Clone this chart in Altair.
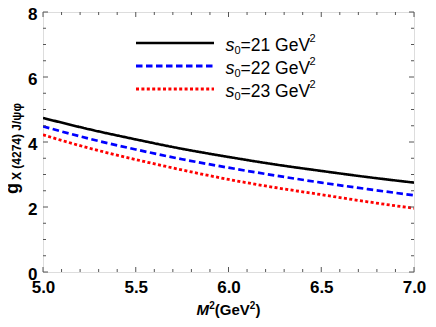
import altair as alt
import pandas as pd

# ---------------- data ----------------
m2 = [5.0, 5.25, 5.5, 5.75, 6.0, 6.25, 6.5, 6.75, 7.0]
g_s21 = [4.74, 4.39, 4.08, 3.79, 3.54, 3.31, 3.11, 2.92, 2.75]
g_s22 = [4.48, 4.10, 3.77, 3.47, 3.21, 2.97, 2.75, 2.55, 2.36]
g_s23 = [4.22, 3.81, 3.46, 3.14, 2.85, 2.60, 2.38, 2.16, 1.96]
series_names = ["s0=21", "s0=22", "s0=23"]
legend_numbers = ["=21 GeV", "=22 GeV", "=23 GeV"]
series_colors = ["#000000", "#0000ff", "#ff0000"]
series_dashes = [[1, 0], [6.5, 3.5], [3, 2.4]]
series_widths = [2.6, 2.8, 3.2]

x_major_ticks = [5.0, 5.5, 6.0, 6.5, 7.0]
x_minor_ticks = [5.1, 5.2, 5.3, 5.4, 5.6, 5.7, 5.8, 5.9,
                 6.1, 6.2, 6.3, 6.4, 6.6, 6.7, 6.8, 6.9]
y_major_ticks = [0, 2, 4, 6, 8]
y_minor_ticks = [0.5, 1, 1.5, 2.5, 3, 3.5, 4.5, 5, 5.5, 6.5, 7, 7.5]

# ---------------- layout ----------------
W, H = 371, 260
FRAME = "#555555"
FONT = "Liberation Sans"

rows = []
for name, vals in zip(series_names, [g_s21, g_s22, g_s23]):
    for xv, yv in zip(m2, vals):
        rows.append({"M2": xv, "g": yv, "series": name})
df = pd.DataFrame(rows)

xscale = alt.Scale(domain=[5, 7], nice=False, zero=False)
yscale = alt.Scale(domain=[0, 8], nice=False)

x_axis = alt.Axis(values=x_major_ticks, format=".1f", ticks=False, domain=False,
                  grid=False, labelFont=FONT, labelFontSize=17, labelFontWeight="bold",
                  labelColor="black", labelPadding=7, labelFlush=False, title=None)
y_axis = alt.Axis(values=y_major_ticks, format="d", ticks=False, domain=False,
                  grid=False, labelFont=FONT, labelFontSize=17, labelFontWeight="bold",
                  labelColor="black", labelPadding=6, labelOffset=2, labelFlush=False,
                  title=None)

lines = alt.Chart(df).mark_line(interpolate="monotone", clip=True).encode(
    x=alt.X("M2:Q", scale=xscale, axis=x_axis),
    y=alt.Y("g:Q", scale=yscale, axis=y_axis),
    color=alt.Color("series:N", scale=alt.Scale(domain=series_names, range=series_colors), legend=None),
    strokeDash=alt.StrokeDash("series:N", scale=alt.Scale(domain=series_names, range=series_dashes), legend=None),
    strokeWidth=alt.StrokeWidth("series:N", scale=alt.Scale(domain=series_names, range=series_widths), legend=None),
)

layers = [lines]

# inner ticks (Mathematica style frame ticks)
def xticks(vals, length):
    d = pd.DataFrame({"xt": vals})
    bottom = alt.Chart(d).mark_rule(color=FRAME, strokeWidth=1).encode(
        x=alt.X("xt:Q", scale=xscale, axis=x_axis), y=alt.value(H), y2=alt.value(H - length))
    top = alt.Chart(d).mark_rule(color=FRAME, strokeWidth=1).encode(
        x=alt.X("xt:Q", scale=xscale, axis=x_axis), y=alt.value(0), y2=alt.value(length))
    return [bottom, top]

def yticks(vals, length):
    d = pd.DataFrame({"yt": vals})
    left = alt.Chart(d).mark_rule(color=FRAME, strokeWidth=1).encode(
        y=alt.Y("yt:Q", scale=yscale, axis=y_axis), x=alt.value(0), x2=alt.value(length))
    right = alt.Chart(d).mark_rule(color=FRAME, strokeWidth=1).encode(
        y=alt.Y("yt:Q", scale=yscale, axis=y_axis), x=alt.value(W), x2=alt.value(W - length))
    return [left, right]

layers += xticks(x_major_ticks, 5) + xticks(x_minor_ticks, 3)
layers += yticks(y_major_ticks, 5) + yticks(y_minor_ticks, 3)

one = pd.DataFrame({"k": [0]})

def text_piece(txt, x, y, size, weight="normal", style="normal", angle=0, color="black"):
    return alt.Chart(one).mark_text(
        text=txt, font=FONT, fontSize=size, fontWeight=weight, fontStyle=style,
        align="left", baseline="alphabetic", angle=angle, color=color
    ).encode(x=alt.value(x), y=alt.value(y))

# legend
row_y = [31, 54, 77]
for i in range(3):
    ry = row_y[i]
    layers.append(alt.Chart(one).mark_rule(
        color=series_colors[i], strokeDash=series_dashes[i], strokeWidth=series_widths[i]
    ).encode(x=alt.value(93), x2=alt.value(171), y=alt.value(ry)))
    layers.append(text_piece("s", 182.5, ry + 7.5, 18, style="italic"))
    layers.append(text_piece("0", 191.5, ry + 11, 11))
    layers.append(text_piece(legend_numbers[i], 197.5, ry + 7.5, 17.5))
    layers.append(text_piece("2", 266.5, ry - 1.5, 11))

# x axis title  M²(GeV²)
ty = 303
x0 = 153.5
layers.append(text_piece("M", x0, ty, 15, weight="bold", style="italic"))
layers.append(text_piece("2", x0 + 12.8, ty - 6, 10, weight="bold"))
layers.append(text_piece("(GeV", x0 + 18.3, ty, 15, weight="bold"))
layers.append(text_piece("2", x0 + 53.3, ty - 6, 10, weight="bold"))
layers.append(text_piece(")", x0 + 58.9, ty, 15, weight="bold"))

# y axis title  g_{X (4274) J/ψφ}
layers.append(text_piece("g", -25.5, 182, 18, weight="bold", angle=270))
layers.append(text_piece("X (4274) J/ψφ", -22.5, 168, 12, weight="bold", angle=270))

chart = alt.layer(*layers).properties(
    width=W, height=H,
    autosize=alt.AutoSizeParams(type="none"),
    padding={"left": 35, "top": 4, "right": 14, "bottom": 47},
).configure_view(stroke=FRAME, strokeWidth=1.2).configure(background="white")

chart.save("out.html", embed_options={"renderer": "svg", "actions": False})
